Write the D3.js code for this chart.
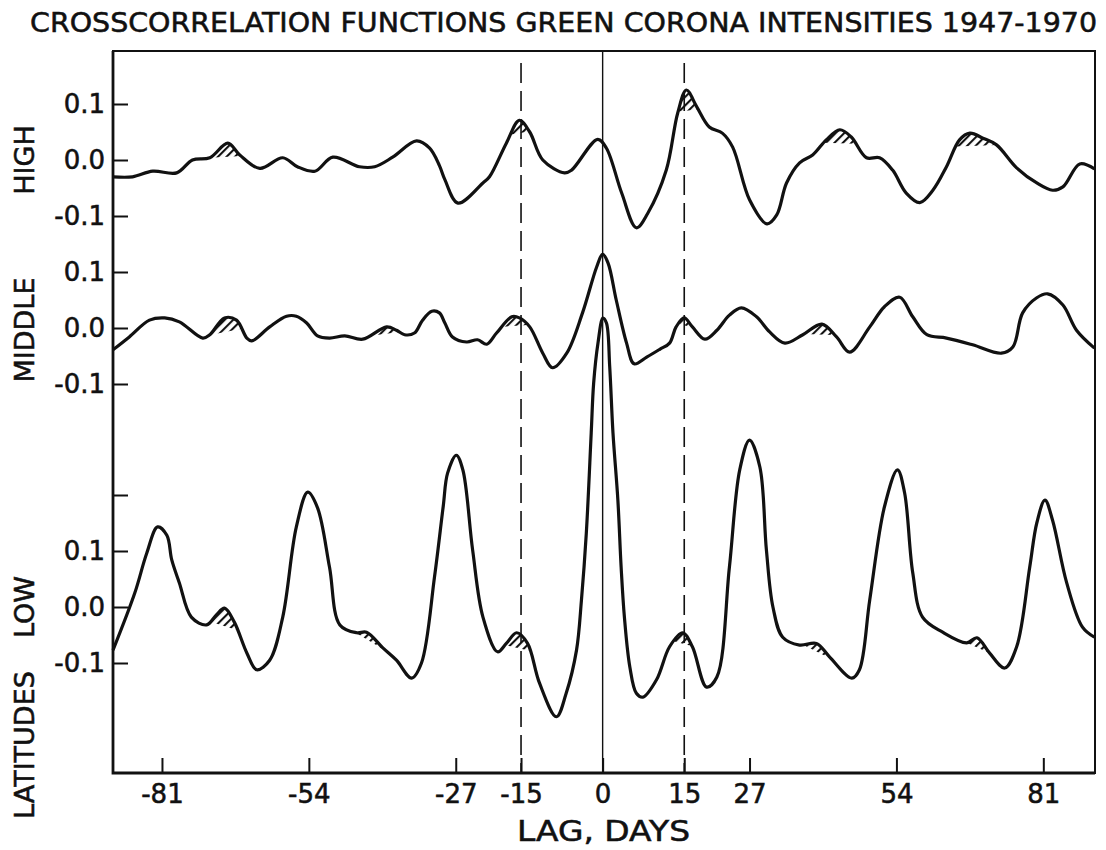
<!DOCTYPE html>
<html>
<head>
<meta charset="utf-8">
<script src="https://cdn.jsdelivr.net/npm/d3@7"></script>
<style>
  body { margin: 0; background: #fff; }
  text { font-family: "DejaVu Sans", sans-serif; fill: #111; stroke: #111; stroke-width: 0.55px; }
</style>
</head>
<body>
<svg id="chart" width="1106" height="850"></svg>
<script>
// lag (days) tick values on the bottom axis
const lagTicks = [-81, -54, -27, -15, 0, 15, 27, 54, 81];
// correlation tick values of each panel
const bandTicks = [-0.1, 0, 0.1];
const lowTicks = [-0.1, 0, 0.1, 0.2];
// reference lags drawn as vertical lines
const dashedLags = [-15, 15];
const zeroLag = [0];

// crosscorrelation, high latitudes  [lag, r]
const high = [
  [-90, -0.030], [-86.4, -0.030], [-82.7, -0.020], [-78.3, -0.023], [-75.4, 0.000],
  [-72.2, 0.004], [-68.9, 0.030], [-66.7, 0.009], [-63.0, -0.015], [-58.8, 0.004],
  [-56.1, -0.012], [-52.9, -0.020], [-49.6, 0.005], [-44.7, -0.012], [-41.9, -0.012],
  [-38.6, 0.005], [-34.2, 0.034], [-31.8, 0.021], [-30.0, -0.010], [-29.0, -0.035],
  [-26.6, -0.077], [-22.0, -0.041], [-20.8, -0.030], [-17.7, 0.030], [-15.3, 0.071],
  [-13.4, 0.050], [-11.0, 0.000], [-7.0, -0.023], [-5.7, -0.018], [-0.9, 0.037],
  [0.7, 0.021], [3.5, -0.059], [6.2, -0.121], [8.3, -0.095], [11.7, -0.018],
  [13.8, 0.084], [15.4, 0.125], [17.3, 0.095], [19.6, 0.059], [22.0, 0.048],
  [23.9, 0.023], [27.0, -0.071], [30.2, -0.114], [32.0, -0.098], [33.8, -0.041],
  [36.2, -0.005], [38.6, 0.009], [41.1, 0.036], [43.6, 0.054], [45.7, 0.041],
  [48.5, 0.004], [50.9, 0.004], [53.3, -0.018], [55.8, -0.059], [58.3, -0.076],
  [60.7, -0.054], [63.2, -0.012], [65.6, 0.036], [67.5, 0.048], [69.9, 0.039],
  [72.4, 0.027], [76.1, -0.014], [79.8, -0.041], [82.7, -0.054], [84.6, -0.048],
  [87.7, -0.007], [90.4, -0.016]
];

// crosscorrelation, middle latitudes
const middle = [
  [-90, -0.039], [-87.0, -0.016], [-83.3, 0.014], [-80.5, 0.018], [-77.8, 0.011],
  [-73.5, -0.018], [-72.2, -0.012], [-69.5, 0.018], [-67.3, 0.014], [-65.4, -0.018],
  [-64.5, -0.023], [-61.2, 0.002], [-58.1, 0.021], [-56.3, 0.021], [-54.4, 0.009],
  [-52.4, -0.014], [-50.2, -0.018], [-47.4, -0.014], [-44.1, -0.020], [-39.7, 0.002],
  [-37.9, -0.004], [-36.4, -0.012], [-34.6, -0.009], [-33.1, 0.014], [-31.4, 0.030],
  [-30.0, 0.027], [-29.0, 0.009], [-27.6, -0.016], [-25.0, -0.025], [-23.0, -0.021],
  [-21.3, -0.029], [-19.5, -0.009], [-16.7, 0.020], [-15.3, 0.018], [-13.4, 0.002],
  [-11.0, -0.045], [-9.2, -0.071], [-6.6, -0.045], [-3.7, 0.027], [-1.1, 0.109],
  [0, 0.132], [1.0, 0.116], [2.5, 0.050], [4.4, -0.027], [5.8, -0.064],
  [8.1, -0.052], [10.5, -0.038], [12.3, -0.027], [13.5, 0.002], [15.0, 0.018],
  [16.5, 0.002], [18.8, -0.020], [21.0, -0.004], [23.3, 0.023], [25.5, 0.036],
  [28.3, 0.020], [30.7, -0.007], [33.5, -0.027], [36.8, -0.012], [40.3, 0.007],
  [43.0, -0.016], [45.4, -0.043], [49.1, 0.002], [51.8, 0.038], [54.6, 0.055],
  [57.0, 0.020], [59.6, -0.012], [63.2, -0.018], [68.0, -0.030], [73.3, -0.045],
  [75.4, -0.034], [77.2, 0.027], [79.8, 0.054], [81.8, 0.061], [84.6, 0.041],
  [87.1, -0.004], [90.4, -0.036]
];

// crosscorrelation, low latitudes
const low = [
  [-90, -0.077], [-86.0, 0.025], [-83.8, 0.096], [-81.8, 0.143], [-80.1, 0.128],
  [-79.2, 0.084], [-77.8, 0.043], [-75.6, -0.018], [-72.8, -0.032], [-71.0, -0.014],
  [-69.5, -0.002], [-67.7, -0.027], [-65.4, -0.082], [-63.6, -0.112], [-61.2, -0.095],
  [-58.8, -0.018], [-56.3, 0.143], [-54.2, 0.205], [-52.4, 0.177], [-50.2, 0.071],
  [-48.3, -0.032], [-45.2, -0.046], [-43.4, -0.045], [-40.4, -0.073], [-37.9, -0.095],
  [-35.1, -0.127], [-33.3, -0.100], [-30.9, 0.054], [-29.3, 0.180], [-28.5, 0.239],
  [-26.9, 0.271], [-25.7, 0.245], [-23.9, 0.102], [-22.0, -0.018], [-19.3, -0.080],
  [-17.7, -0.065], [-15.8, -0.046], [-13.8, -0.065], [-11.6, -0.136], [-8.5, -0.196],
  [-6.7, -0.154], [-4.8, -0.077], [-3.9, 0.012], [-3.0, 0.132], [-2.1, 0.311],
  [-1.65, 0.400], [-0.86, 0.471], [0.06, 0.516], [0.7, 0.507], [1.3, 0.429],
  [1.9, 0.311], [2.8, 0.191], [3.4, 0.071], [4.0, -0.018], [5.0, -0.107],
  [6.2, -0.154], [7.4, -0.161], [9.9, -0.130], [12.3, -0.071], [14.7, -0.046],
  [16.5, -0.071], [19.1, -0.143], [21.0, -0.125], [23.3, 0.071], [25.2, 0.245],
  [27.0, 0.298], [28.9, 0.250], [30.1, 0.102], [31.3, 0.000], [33.1, -0.054],
  [36.2, -0.068], [39.3, -0.065], [41.7, -0.089], [45.8, -0.127], [47.2, -0.112],
  [49.1, 0.013], [51.8, 0.179], [54.2, 0.245], [55.5, 0.204], [57.0, 0.061],
  [58.8, -0.018], [62.5, -0.045], [66.9, -0.064], [68.8, -0.055], [71.1, -0.082],
  [73.9, -0.109], [76.1, -0.071], [78.5, 0.071], [79.8, 0.150], [81.3, 0.191],
  [82.7, 0.155], [85.3, 0.043], [88.2, -0.036], [90.4, -0.054]
];

// hatched (shaded) peaks, [start lag, end lag]
const highHatch = [[-72.2, -66.4], [-16.8, -13.5], [13.9, 17.6], [40.6, 46.6], [65.0, 72.4]];
const middleHatch = [[-72.4, -66.4], [-43.0, -37.3], [-18.4, -13.8], [14.0, 16.6], [37.0, 42.6]];
const lowHatch = [[-72.2, -67.1], [-46.0, -39.7], [-18.0, -13.4], [13.2, 16.4], [36.8, 42.1], [66.9, 71.1]];

// ---------------------------------------------------------------
const svg = d3.select('#chart');
const frame = { left: 113, right: 1095, top: 51, bottom: 773 };

const x = d3.scaleLinear().domain([-90, 90.5]).range([frame.left, frame.right]);

// each band has its own zero line, 0.1 = 56 px everywhere
const yHigh = d3.scaleLinear().domain([-0.1, 0.1]).range([216, 104]);
const yMiddle = d3.scaleLinear().domain([-0.1, 0.1]).range([384, 272]);
const yLow = d3.scaleLinear().domain([-0.1, 0.2]).range([663, 495]);

const curve = d3.curveCatmullRom.alpha(0.5);
const ink = '#111';

// hatch pattern
const defs = svg.append('defs');
defs.append('pattern')
    .attr('id', 'hatch')
    .attr('width', 6)
    .attr('height', 6)
    .attr('patternUnits', 'userSpaceOnUse')
    .attr('patternTransform', 'rotate(45)')
  .append('line')
    .attr('x1', 1).attr('y1', 0)
    .attr('x2', 1).attr('y2', 6)
    .attr('stroke', ink)
    .attr('stroke-width', 2.2);

// title
svg.append('text')
    .attr('x', 30)
    .attr('y', 32)
    .attr('font-size', 27)
    .attr('textLength', 1067)
    .attr('lengthAdjust', 'spacingAndGlyphs')
    .text('CROSSCORRELATION FUNCTIONS GREEN CORONA INTENSITIES 1947-1970');

// vertical reference lines
svg.selectAll('.zero-lag')
    .data(zeroLag)
    .enter()
    .append('line')
    .attr('class', 'zero-lag')
    .attr('x1', d => x(d)).attr('x2', d => x(d))
    .attr('y1', frame.top).attr('y2', frame.bottom)
    .attr('stroke', ink)
    .attr('stroke-width', 1.4);

svg.selectAll('.dashed-lag')
    .data(dashedLags)
    .enter()
    .append('line')
    .attr('class', 'dashed-lag')
    .attr('x1', d => x(d)).attr('x2', d => x(d))
    .attr('y1', frame.top + 12).attr('y2', frame.bottom)
    .attr('stroke', ink)
    .attr('stroke-width', 1.6)
    .attr('stroke-dasharray', '20,8');

// linear lookup in a series, used for the hatch chords
function valueAt(series, lag) {
    const i = d3.bisector(d => d[0]).left(series, lag);
    if (i <= 0) return series[0][1];
    if (i >= series.length) return series[series.length - 1][1];
    const a = series[i - 1], b = series[i];
    const t = (lag - a[0]) / (b[0] - a[0]);
    return a[1] + t * (b[1] - a[1]);
}

function drawBand(name, series, y, hatches) {
    // clip: everything below the curve
    const below = d3.area()
        .x(d => x(d[0]))
        .y0(frame.bottom + 40)
        .y1(d => y(d[1]))
        .curve(curve);

    defs.append('clipPath')
        .attr('id', 'below-' + name)
      .append('path')
        .attr('d', below(series));

    const hg = svg.append('g')
        .attr('class', 'hatch-' + name)
        .attr('clip-path', `url(#below-${name})`);

    hg.selectAll('path')
        .data(hatches)
        .enter()
        .append('path')
        .attr('d', h => {
            const x0 = x(h[0]), x1 = x(h[1]);
            const y0 = y(valueAt(series, h[0]));
            const y1 = y(valueAt(series, h[1]));
            return `M${x0},${frame.top}L${x1},${frame.top}L${x1},${y1}L${x0},${y0}Z`;
        })
        .attr('fill', 'url(#hatch)');

    svg.append('path')
        .datum(series)
        .attr('class', 'curve-' + name)
        .attr('fill', 'none')
        .attr('stroke', ink)
        .attr('stroke-width', 3.2)
        .attr('stroke-linejoin', 'round')
        .attr('d', d3.line()
            .x(d => x(d[0]))
            .y(d => y(d[1]))
            .curve(curve));
}

drawBand('high', high, yHigh, highHatch);
drawBand('middle', middle, yMiddle, middleHatch);
drawBand('low', low, yLow, lowHatch);

// left axes, ticks pointing into the plot
function leftAxis(y, ticks) {
    const g = svg.append('g')
        .attr('transform', `translate(${frame.left},0)`)
        .call(d3.axisLeft(y)
            .tickValues(ticks)
            .tickSizeInner(-15)
            .tickSizeOuter(0)
            .tickPadding(8)
            .tickFormat(d => (d > 0.15 ? '' : d.toFixed(1))));
    g.select('.domain').remove();
    g.selectAll('.tick line').attr('stroke', ink).attr('stroke-width', 2);
    g.selectAll('.tick text')
        .attr('font-size', 26)
        .attr('font-family', '"DejaVu Sans", sans-serif')
        .attr('fill', ink);
}

leftAxis(yHigh, bandTicks);
leftAxis(yMiddle, bandTicks);
leftAxis(yLow, lowTicks);

// bottom axis
const xg = svg.append('g')
    .attr('transform', `translate(0,${frame.bottom})`)
    .call(d3.axisBottom(x)
        .tickValues(lagTicks)
        .tickSizeInner(-15)
        .tickSizeOuter(0)
        .tickPadding(12)
        .tickFormat(d => String(d)));
xg.select('.domain').remove();
xg.selectAll('.tick line').attr('stroke', ink).attr('stroke-width', 2);
xg.selectAll('.tick text')
    .attr('font-size', 26)
    .attr('font-family', '"DejaVu Sans", sans-serif')
    .attr('fill', ink);

// frame
svg.append('rect')
    .attr('x', frame.left)
    .attr('y', frame.top)
    .attr('width', frame.right - frame.left)
    .attr('height', frame.bottom - frame.top)
    .attr('fill', 'none')
    .attr('stroke', ink)
    .attr('stroke-width', 2);
svg.append('path')
    .attr('d', `M${frame.left},${frame.top}V${frame.bottom}H${frame.right}`)
    .attr('fill', 'none')
    .attr('stroke', ink)
    .attr('stroke-width', 2.8);

// axis titles
svg.append('text')
    .attr('x', 517)
    .attr('y', 841)
    .attr('font-size', 28)
    .attr('textLength', 173)
    .attr('lengthAdjust', 'spacingAndGlyphs')
    .text('LAG, DAYS');

const sideLabels = [
    { text: 'HIGH', y: 160 },
    { text: 'MIDDLE', y: 330 },
    { text: 'LOW', y: 607 },
    { text: 'LATITUDES', y: 745 }
];
svg.selectAll('.side-label')
    .data(sideLabels)
    .enter()
    .append('text')
    .attr('class', 'side-label')
    .attr('transform', d => `translate(34,${d.y}) rotate(-90)`)
    .attr('text-anchor', 'middle')
    .attr('font-size', 27)
    .text(d => d.text);
</script>
</body>
</html>
